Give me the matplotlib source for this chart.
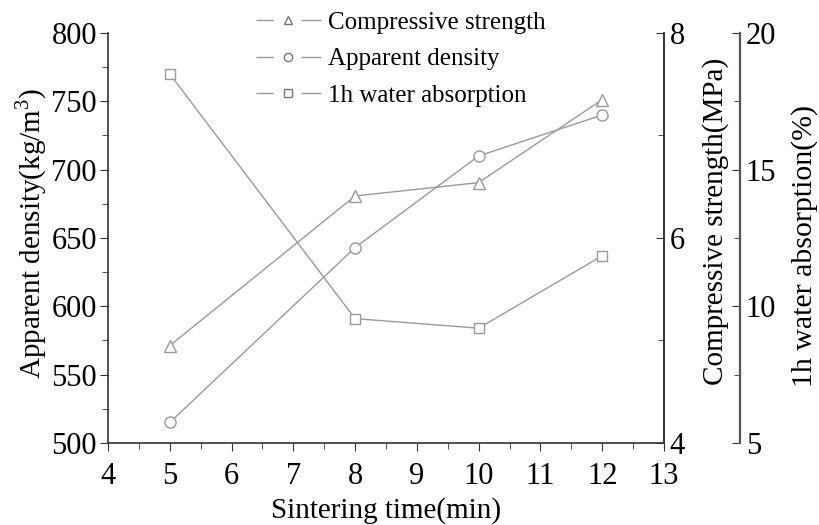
import matplotlib
matplotlib.use("Agg")
import matplotlib.pyplot as plt
from matplotlib.ticker import MultipleLocator
from matplotlib.lines import Line2D

plt.rcParams['font.family'] = ['Liberation Serif', 'DejaVu Serif']
plt.rcParams['mathtext.fontset'] = 'custom'
plt.rcParams['mathtext.rm'] = 'Liberation Serif'

# data
sintering_time = [5, 8, 10, 12]
apparent_density = [515, 643, 710, 740]
compressive_strength = [4.95, 6.41, 6.54, 7.35]
water_absorption = [18.5, 9.55, 9.2, 11.85]

grey = '#9a9a9a'
tick_fs = 22
label_fs = 21


def legend_handle(marker):
    # line - marker - line, with a gap round the marker
    return Line2D([], [], color=grey, lw=1, ls=(0, (12.5, 20, 14.5, 200)),
                  marker=marker, ms=6, mfc='white', mec='#777777', mew=1)


def main():
    fig = plt.figure(figsize=(8.2, 5.25), dpi=100)
    ax = fig.add_axes([0.1317, 0.1562, 0.678, 0.781])
    ax2 = ax.twinx()
    ax3 = ax.twinx()
    ax3.spines['right'].set_position(('axes', 1.137))

    for a in (ax, ax2, ax3):
        a.spines['top'].set_visible(False)
    for a in (ax2, ax3):
        a.spines['left'].set_visible(False)
        a.spines['bottom'].set_visible(False)

    ax.plot(sintering_time, apparent_density, color=grey, lw=1,
            marker='o', ms=8, mfc='white', mec=grey, mew=1)
    ax2.plot(sintering_time, compressive_strength, color=grey, lw=1,
             marker='^', ms=8, mfc='white', mec=grey, mew=1)
    ax3.plot(sintering_time, water_absorption, color=grey, lw=1,
             marker='s', ms=7, mfc='white', mec=grey, mew=1)

    ax.set_xlim(4, 13)
    ax.set_ylim(500, 800)
    ax2.set_ylim(4, 8)
    ax3.set_ylim(5, 20)

    ax.xaxis.set_major_locator(MultipleLocator(1))
    ax.xaxis.set_minor_locator(MultipleLocator(0.5))
    ax.yaxis.set_major_locator(MultipleLocator(50))
    ax.yaxis.set_minor_locator(MultipleLocator(25))
    ax2.yaxis.set_major_locator(MultipleLocator(2))
    ax2.yaxis.set_minor_locator(MultipleLocator(1))
    ax3.yaxis.set_major_locator(MultipleLocator(5))
    ax3.yaxis.set_minor_locator(MultipleLocator(2.5))

    ax.tick_params(which='both', direction='out', labelsize=tick_fs, color='#333333')
    ax.tick_params(which='major', length=6)
    ax.tick_params(which='minor', length=4)
    ax.tick_params(axis='x', pad=8)
    ax.tick_params(axis='y', pad=2)
    for a in (ax2, ax3):
        a.tick_params(which='both', direction='in', labelsize=tick_fs, color='#333333', pad=4)
        a.tick_params(which='major', length=6)
        a.tick_params(which='minor', length=4)

    for a in (ax, ax2):
        for s in a.spines.values():
            s.set_color('#333333')
            s.set_linewidth(1.2)
    ax3.spines['right'].set_color('#555555')
    ax3.spines['right'].set_linewidth(1.6)

    ax.set_xlabel('Sintering time(min)', fontsize=label_fs)
    ax.set_ylabel('Apparent density(kg/m$^3$)', fontsize=label_fs)
    ax2.set_ylabel('Compressive strength(MPa)', fontsize=label_fs)
    ax3.set_ylabel('1h water absorption(%)', fontsize=21.5)
    ax.xaxis.set_label_coords(0.5, -0.132)
    ax.yaxis.set_label_coords(-0.106, 0.512)
    ax2.yaxis.set_label_coords(1.068, 0.541)
    ax3.yaxis.set_label_coords(1.228, 0.48)

    fig.legend([legend_handle('^'), legend_handle('o'), legend_handle('s')],
               ['Compressive strength', 'Apparent density', '1h water absorption'],
               loc='upper left', bbox_to_anchor=(0.30, 0.997), frameon=False,
               fontsize=18, handlelength=2.6, handletextpad=0.3,
               labelspacing=0.55, borderaxespad=0)

    fig.savefig('out.png', dpi=100)


if __name__ == "__main__":
    main()
